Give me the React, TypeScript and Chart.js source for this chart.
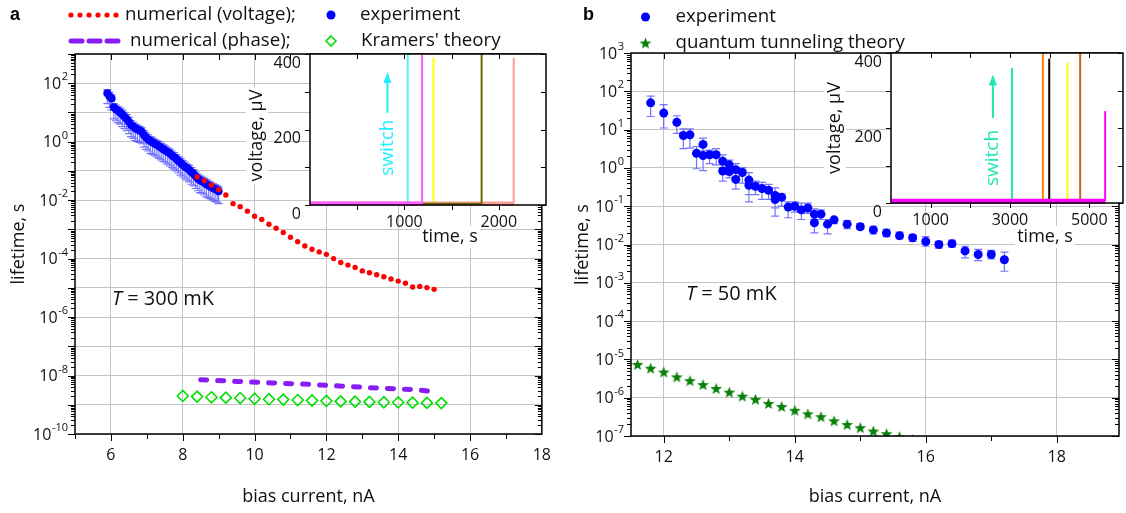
import React, { useEffect, useRef } from 'react';
import { Chart, registerables } from 'chart.js';
Chart.register(...registerables);

const FONT = "'Open Sans', 'DejaVu Sans', sans-serif";
const BOLD = "'Liberation Sans', Arial, sans-serif";

// ---------------- Panel a : T = 300 mK ----------------
const expA_x = [5.90, 5.96, 6.02, 6.08, 6.14, 6.20, 6.26, 6.32, 6.38, 6.44, 6.50, 6.56, 6.62, 6.68, 6.74, 6.80, 6.86, 6.92, 6.98, 7.04, 7.10, 7.16, 7.22, 7.28, 7.34, 7.40, 7.46, 7.52, 7.58, 7.64, 7.70, 7.76, 7.82, 7.88, 7.94, 8.00, 8.06, 8.12, 8.18, 8.24, 8.30, 8.36, 8.42, 8.48, 8.54, 8.60, 8.66, 8.72, 8.78, 8.84, 8.90, 8.96, 9.00];
const expA_y = [45, 36, 30, 15, 13, 11.5, 10, 8.5, 7.2, 6, 4.8, 3.8, 3.3, 2.9, 2.6, 2.4, 2.2, 1.7, 1.4, 1.2, 1.05, 0.95, 0.85, 0.78, 0.7, 0.62, 0.55, 0.5, 0.44, 0.4, 0.34, 0.3, 0.26, 0.22, 0.19, 0.16, 0.14, 0.125, 0.11, 0.092, 0.08, 0.066, 0.055, 0.048, 0.044, 0.04, 0.035, 0.032, 0.029, 0.026, 0.024, 0.022, 0.02];
const expA_lo = [20, 15, 12, 6, 5.2, 4.5, 4, 3.3, 2.8, 2.4, 1.9, 1.5, 1.3, 1.1, 1.0, 0.95, 0.85, 0.65, 0.55, 0.48, 0.4, 0.37, 0.33, 0.3, 0.27, 0.24, 0.21, 0.19, 0.17, 0.15, 0.13, 0.115, 0.1, 0.085, 0.072, 0.062, 0.054, 0.048, 0.042, 0.035, 0.031, 0.025, 0.021, 0.018, 0.017, 0.015, 0.013, 0.012, 0.011, 0.01, 0.009, 0.0085, 0.0076];
const expA_hi = [60, 50, 40, 20, 18, 16, 14, 12, 10, 8.5, 6.8, 5.3, 4.6, 4, 3.6, 3.3, 3, 2.4, 2, 1.7, 1.5, 1.35, 1.2, 1.1, 1.0, 0.88, 0.78, 0.7, 0.62, 0.56, 0.48, 0.42, 0.36, 0.31, 0.27, 0.23, 0.2, 0.17, 0.155, 0.13, 0.11, 0.092, 0.078, 0.068, 0.062, 0.056, 0.05, 0.045, 0.041, 0.037, 0.034, 0.031, 0.028];

const voltA_x = [8.4, 8.6, 8.8, 9.0, 9.2, 9.4, 9.6, 9.8, 10.0, 10.2, 10.4, 10.6, 10.8, 11.0, 11.2, 11.4, 11.6, 11.8, 12.0, 12.2, 12.4, 12.6, 12.8, 13.0, 13.2, 13.4, 13.6, 13.8, 14.0, 14.2, 14.4, 14.6, 14.8, 15.0];
const voltA_y = [0.062, 0.046, 0.033, 0.023, 0.015, 0.0076, 0.006, 0.0042, 0.0028, 0.0022, 0.0015, 0.0011, 0.00079, 0.00054, 0.00038, 0.00027, 0.00021, 0.00017, 0.00014, 0.0001, 7.4e-5, 6.0e-5, 5.0e-5, 3.8e-5, 3.3e-5, 2.8e-5, 2.4e-5, 2.0e-5, 1.7e-5, 1.45e-5, 1.07e-5, 1.12e-5, 1.02e-5, 8.9e-6];

const phaseA_x = [8.5, 9.5, 10.5, 11.5, 12.5, 13.5, 14.5, 15.0];
const phaseA_y = [7.2e-9, 6.3e-9, 5.6e-9, 5.0e-9, 4.3e-9, 3.7e-9, 3.3e-9, 2.8e-9];

const kramersA_x = [8.0, 8.4, 8.8, 9.2, 9.6, 10.0, 10.4, 10.8, 11.2, 11.6, 12.0, 12.4, 12.8, 13.2, 13.6, 14.0, 14.4, 14.8, 15.2];
const kramersA_y = [2.0e-9, 1.9e-9, 1.8e-9, 1.75e-9, 1.7e-9, 1.6e-9, 1.55e-9, 1.5e-9, 1.45e-9, 1.4e-9, 1.35e-9, 1.3e-9, 1.28e-9, 1.25e-9, 1.22e-9, 1.2e-9, 1.18e-9, 1.16e-9, 1.14e-9];

const xTicksA = [6, 8, 10, 12, 14, 16, 18];
const xMinorA = [5, 6, 7, 8, 9, 10, 11, 12, 13, 14, 15, 16, 17];
const yLabelExpA = [2, 0, -2, -4, -6, -8, -10];

// inset a (voltage traces)
const insetA_times = [1035, 1187, 1308, 1818, 2158];
const insetA_peaks = [400, 400, 390, 400, 390];
const insetA_base = 3;
const insetA_xTicks = [500, 1000, 1500, 2000];
const insetA_xLabels = [1000, 2000];
const insetA_yTicks = [0, 100, 200, 300, 400];
const insetA_yLabels = [0, 200, 400];

// ---------------- Panel b : T = 50 mK ----------------
const expB_x = [11.8, 12.0, 12.2, 12.3, 12.4, 12.5, 12.6, 12.6, 12.7, 12.8, 12.9, 12.9, 13.0, 13.0, 13.1, 13.1, 13.2, 13.3, 13.3, 13.4, 13.5, 13.6, 13.7, 13.7, 13.8, 13.9, 14.0, 14.1, 14.2, 14.3, 14.3, 14.4, 14.5, 14.6, 14.8, 15.0, 15.2, 15.4, 15.6, 15.8, 16.0, 16.2, 16.4, 16.6, 16.8, 17.0, 17.2];
const expB_y = [50, 27, 15.5, 7, 7.3, 2.4, 4.1, 2.1, 2.2, 2.2, 1.5, 0.83, 1.2, 0.8, 0.5, 0.9, 0.76, 0.48, 0.35, 0.33, 0.29, 0.26, 0.19, 0.15, 0.17, 0.095, 0.1, 0.08, 0.09, 0.062, 0.037, 0.062, 0.034, 0.044, 0.034, 0.029, 0.024, 0.02, 0.017, 0.015, 0.012, 0.01, 0.0105, 0.0068, 0.0055, 0.0055, 0.004];
const expB_lo = [22, 11, 8, 3.2, 3.3, 0.95, 2.2, 0.85, 1.3, 1.2, 1.0, 0.45, 0.7, 0.55, 0.28, 0.6, 0.4, 0.13, 0.2, 0.2, 0.15, 0.15, 0.055, 0.09, 0.1, 0.05, 0.07, 0.045, 0.065, 0.045, 0.02, 0.045, 0.019, 0.035, 0.026, 0.025, 0.019, 0.016, 0.014, 0.012, 0.009, 0.008, 0.0085, 0.0045, 0.0038, 0.0042, 0.002];
const expB_hi = [75, 45, 23, 10.5, 10.5, 3.6, 6, 2.8, 2.9, 3.2, 2.2, 1.2, 1.6, 1.3, 0.8, 1.3, 1.0, 0.75, 0.5, 0.45, 0.42, 0.37, 0.3, 0.2, 0.21, 0.13, 0.13, 0.12, 0.12, 0.085, 0.045, 0.08, 0.045, 0.05, 0.042, 0.035, 0.03, 0.025, 0.021, 0.018, 0.016, 0.012, 0.013, 0.009, 0.0075, 0.007, 0.0063];

const qtB_x = [11.6, 11.8, 12.0, 12.2, 12.4, 12.6, 12.8, 13.0, 13.2, 13.4, 13.6, 13.8, 14.0, 14.2, 14.4, 14.6, 14.8, 15.0, 15.2, 15.4, 15.6, 15.8];
const qtB_y = [7.4e-6, 5.9e-6, 4.7e-6, 3.5e-6, 2.8e-6, 2.2e-6, 1.75e-6, 1.4e-6, 1.1e-6, 9.1e-7, 7.1e-7, 5.9e-7, 4.7e-7, 3.8e-7, 3.2e-7, 2.5e-7, 2.0e-7, 1.65e-7, 1.35e-7, 1.15e-7, 9.6e-8, 8.1e-8];

const xTicksB = [12, 14, 16, 18];
const xMinorB = [12, 13, 14, 15, 16, 17, 18];
const yLabelExpB = [3, 2, 1, 0, -1, -2, -3, -4, -5, -6, -7];

// inset b (voltage traces)
const insetB_times = [3050, 3830, 3990, 4450, 4770, 5400];
const insetB_peaks = [360, 400, 385, 375, 400, 245];
const insetB_base = 5;
const insetB_xTicks = [1000, 2000, 3000, 4000, 5000];
const insetB_xLabels = [1000, 3000, 5000];
const insetB_yTicks = [0, 100, 200, 300, 400];
const insetB_yLabels = [0, 200, 400];

// ---------------- styles ----------------
const insetA_colors = ['#52f0fa', '#ff5cff', '#ffff00', '#6b6b00', '#ff9c9c'];
const insetA_baseW = [2, 4.5, 2, 2, 4.5];
const insetA_layer = [1, 5, 0, 3, 2];
const insetB_colors = ['#1ee6b4', '#ff8000', '#000000', '#ffff00', '#c86414', '#ff00ff'];
const insetB_baseW = [2, 2, 2, 2, 2, 5];
const insetB_layer = [0, 1, 2, 3, 4, 5];

const LEG = 18.7;

const pts = (xs: number[], ys: number[]) => xs.map((x, i) => ({ x, y: ys[i] }));

function makeStar(size: number, color: string) {
  const c = document.createElement('canvas');
  c.width = size; c.height = size;
  const g = c.getContext('2d')!;
  const cx = size / 2, cy = size / 2 + 0.6, R = size / 2 - 0.3, r = R * 0.42;
  g.beginPath();
  for (let i = 0; i < 10; i++) {
    const ang = -Math.PI / 2 + (i * Math.PI) / 5;
    const rad = i % 2 ? r : R;
    g.lineTo(cx + rad * Math.cos(ang), cy + rad * Math.sin(ang));
  }
  g.closePath();
  g.fillStyle = color;
  g.fill();
  return c;
}

function drawPow(ctx: CanvasRenderingContext2D, exp: number, xRight: number, y: number) {
  const es = String(exp);
  ctx.font = `11px ${FONT}`;
  const ew = ctx.measureText(es).width;
  ctx.font = `16px ${FONT}`;
  const bw = ctx.measureText('10').width;
  ctx.textAlign = 'left';
  ctx.textBaseline = 'middle';
  ctx.fillText('10', xRight - ew - bw - 0.5, y + 1);
  ctx.font = `11px ${FONT}`;
  ctx.fillText(es, xRight - ew, y - 6);
}

const errorBarPlugin = {
  id: 'errBars',
  beforeDatasetsDraw(chart: any) {
    const { ctx } = chart;
    const ys = chart.scales.y;
    chart.data.datasets.forEach((ds: any, i: number) => {
      if (!ds.errLow) return;
      const meta = chart.getDatasetMeta(i);
      ctx.save();
      ctx.strokeStyle = ds.errColor;
      ctx.lineWidth = 1.2;
      ctx.beginPath();
      const cap = ds.errCap;
      meta.data.forEach((el: any, j: number) => {
        const x = el.x;
        const yl = ys.getPixelForValue(ds.errLow[j]);
        const yh = ys.getPixelForValue(ds.errHigh[j]);
        ctx.moveTo(x, yl); ctx.lineTo(x, yh);
        ctx.moveTo(x - cap, yl); ctx.lineTo(x + cap, yl);
        ctx.moveTo(x - cap, yh); ctx.lineTo(x + cap, yh);
      });
      ctx.stroke();
      ctx.restore();
    });
  },
};

const axesPlugin = {
  id: 'axesDeco',
  afterDraw(chart: any, _a: any, o: any) {
    const { ctx, chartArea: a } = chart;
    const xs = chart.scales.x, ys = chart.scales.y;
    ctx.save();
    ctx.strokeStyle = '#000';
    ctx.lineWidth = 1;
    ctx.beginPath();
    for (const v of o.xMinor) {
      const p = Math.round(xs.getPixelForValue(v)) + 0.5;
      const major = o.xMajor.includes(v);
      ctx.moveTo(p, a.bottom); ctx.lineTo(p, a.bottom + (major ? 7 : 5));
      ctx.moveTo(p, a.top); ctx.lineTo(p, a.top + 6);
    }
    for (let e = o.yMinExp; e <= o.yMaxExp; e++) {
      const p = Math.round(ys.getPixelForValue(Math.pow(10, e))) + 0.5;
      ctx.moveTo(a.left - 7, p); ctx.lineTo(a.left, p);
      ctx.moveTo(a.right, p); ctx.lineTo(a.right - 7, p);
      if (e < o.yMaxExp) {
        for (let m = 2; m <= 9; m++) {
          const q = Math.round(ys.getPixelForValue(m * Math.pow(10, e))) + 0.5;
          ctx.moveTo(a.left - 4, q); ctx.lineTo(a.left, q);
          ctx.moveTo(a.right, q); ctx.lineTo(a.right - 4, q);
        }
      }
    }
    ctx.stroke();
    ctx.lineWidth = 1.5;
    ctx.strokeRect(a.left, a.top, a.right - a.left, a.bottom - a.top);
    ctx.fillStyle = '#111';
    for (const e of o.yLabels) drawPow(ctx, e, a.left - 7, ys.getPixelForValue(Math.pow(10, e)));
    ctx.restore();
  },
};

function drawMarker(ctx: CanvasRenderingContext2D, kind: string, ds: any, mx: number, my: number) {
  ctx.save();
  if (kind === 'dots') {
    ctx.fillStyle = ds.pointBackgroundColor;
    for (let i = 0; i < 6; i++) {
      ctx.beginPath(); ctx.arc(mx + i * 9, my, 2.6, 0, Math.PI * 2); ctx.fill();
    }
  } else if (kind === 'dash') {
    ctx.strokeStyle = ds.borderColor; ctx.lineWidth = 5; ctx.lineCap = 'round';
    ctx.beginPath();
    for (const [s, e] of [[0, 11], [18, 29], [36, 47]]) { ctx.moveTo(mx + s, my); ctx.lineTo(mx + e, my); }
    ctx.stroke();
  } else if (kind === 'circle') {
    ctx.fillStyle = ds.pointBackgroundColor;
    ctx.beginPath(); ctx.arc(mx, my, 4.5, 0, Math.PI * 2); ctx.fill();
  } else if (kind === 'diamond') {
    ctx.strokeStyle = ds.pointBorderColor; ctx.lineWidth = 1.6;
    ctx.beginPath(); ctx.moveTo(mx, my - 5); ctx.lineTo(mx + 5, my); ctx.lineTo(mx, my + 5); ctx.lineTo(mx - 5, my); ctx.closePath(); ctx.stroke();
  } else if (kind === 'image') {
    const img = ds.pointStyle;
    ctx.drawImage(img, mx - img.width / 2, my - img.height / 2);
  }
  ctx.restore();
}

const legendPlugin = {
  id: 'legendDeco',
  afterDraw(chart: any, _a: any, o: any) {
    const ctx = chart.ctx;
    ctx.save();
    for (const it of o.items) {
      const ds = chart.data.datasets[it.ds];
      drawMarker(ctx, it.kind, ds, it.mx, it.my);
      ctx.fillStyle = '#111';
      ctx.font = `${LEG}px ${FONT}`;
      ctx.textAlign = 'left';
      ctx.textBaseline = 'middle';
      ctx.fillText(ds.label, it.tx, it.my);
    }
    ctx.font = `bold 18px ${BOLD}`;
    ctx.fillStyle = '#000';
    ctx.textBaseline = 'middle';
    ctx.fillText(o.panel, o.panelX, o.panelY);
    ctx.font = `italic 20px ${FONT}`;
    ctx.fillStyle = '#111';
    ctx.fillText('T', o.tX, o.tY);
    const w = ctx.measureText('T').width;
    ctx.font = `20px ${FONT}`;
    ctx.fillText(o.tText, o.tX + w, o.tY);
    ctx.restore();
  },
};

const insetPlugin = {
  id: 'insetDeco',
  beforeDraw(chart: any) {
    const { ctx, chartArea: a } = chart;
    ctx.save();
    ctx.fillStyle = '#fff';
    ctx.fillRect(a.left, a.top, a.right - a.left, a.bottom - a.top);
    ctx.restore();
  },
  afterDraw(chart: any, _a: any, o: any) {
    const { ctx, chartArea: a } = chart;
    const xs = chart.scales.x, ys = chart.scales.y;
    ctx.save();
    ctx.strokeStyle = '#000';
    ctx.lineWidth = 1;
    ctx.beginPath();
    for (const v of o.xTicks) {
      const p = Math.round(xs.getPixelForValue(v)) + 0.5;
      ctx.moveTo(p, a.bottom); ctx.lineTo(p, a.bottom + 5);
      ctx.moveTo(p, a.top); ctx.lineTo(p, a.top + 5);
    }
    for (const v of o.yTicks) {
      const p = Math.round(ys.getPixelForValue(v)) + 0.5;
      ctx.moveTo(a.left - 5, p); ctx.lineTo(a.left, p);
      ctx.moveTo(a.right, p); ctx.lineTo(a.right - 5, p);
    }
    ctx.stroke();
    ctx.lineWidth = 1.5;
    ctx.strokeRect(a.left, a.top, a.right - a.left, a.bottom - a.top);

    ctx.fillStyle = '#111';
    ctx.font = `16px ${FONT}`;
    ctx.textBaseline = 'middle';
    ctx.textAlign = 'center';
    for (const v of o.xLabels) ctx.fillText(String(v), xs.getPixelForValue(v), a.bottom + 17);
    ctx.textAlign = 'right';
    for (const v of o.yLabels) ctx.fillText(String(v), a.left - 9, ys.getPixelForValue(v) + 9);

    // axis titles with white backing
    ctx.font = `18px ${FONT}`;
    const yt = 'voltage, \u00b5V';
    const ytw = ctx.measureText(yt).width;
    const ytx = a.left - o.yTitleDx, yty = (a.top + a.bottom) / 2 + o.yTitleDy;
    ctx.fillStyle = '#fff';
    ctx.fillRect(ytx - 11, yty - ytw / 2 - 2, 22, ytw + 4);
    ctx.save();
    ctx.translate(ytx, yty);
    ctx.rotate(-Math.PI / 2);
    ctx.fillStyle = '#111';
    ctx.textAlign = 'center';
    ctx.fillText(yt, 0, 0);
    ctx.restore();
    const xt = 'time, s';
    const xtw = ctx.measureText(xt).width;
    ctx.fillStyle = '#fff';
    ctx.fillRect(o.xTitleX - xtw / 2 - 2, o.xTitleY - 11, xtw + 4, 22);
    ctx.fillStyle = '#111';
    ctx.textAlign = 'center';
    ctx.fillText(xt, o.xTitleX, o.xTitleY);

    // "switch" annotation
    const sx = xs.getPixelForValue(o.sw.x);
    ctx.save();
    ctx.translate(sx, ys.getPixelForValue(o.sw.textY));
    ctx.rotate(-Math.PI / 2);
    ctx.font = `19px ${FONT}`;
    ctx.fillStyle = o.sw.color;
    ctx.textAlign = 'center';
    ctx.fillText('switch', 0, 0);
    ctx.restore();
    const y0 = ys.getPixelForValue(o.sw.tail), y1 = ys.getPixelForValue(o.sw.tip);
    ctx.strokeStyle = o.sw.color;
    ctx.fillStyle = o.sw.color;
    ctx.lineWidth = 2;
    ctx.beginPath(); ctx.moveTo(sx, y0); ctx.lineTo(sx, y1 + 8); ctx.stroke();
    ctx.beginPath(); ctx.moveTo(sx, y1); ctx.lineTo(sx - 4, y1 + 11); ctx.lineTo(sx + 4, y1 + 11); ctx.closePath(); ctx.fill();
    ctx.restore();
  },
};

function traceDatasets(times: number[], peaks: number[], base: number, colors: string[], widths: number[], layers: number[]) {
  const out: any[] = [];
  times.forEach((t, i) => {
    out.push({ data: [{ x: 0, y: base }, { x: t, y: base }], borderColor: colors[i], borderWidth: widths[i], showLine: true, pointRadius: 0, order: 40 - layers[i] * 2, clip: 4 });
    out.push({ data: [{ x: t, y: base }, { x: t, y: peaks[i] }], borderColor: colors[i], borderWidth: 2, showLine: true, pointRadius: 0, order: 40 - layers[i] * 2 - 1, clip: 4 });
  });
  return out;
}

const GRID = '#c4c4c4';

function mainScales(xmin: number, xmax: number, xTicks: number[], ymin: number, ymax: number, yMinE: number, yMaxE: number, yWidth: number, xHeight: number, yTitlePad: number) {
  const decs: number[] = [];
  for (let e = yMinE; e <= yMaxE; e++) decs.push(Math.pow(10, e));
  return {
    x: {
      type: 'linear', min: xmin, max: xmax,
      afterBuildTicks: (s: any) => { s.ticks = xTicks.map((v) => ({ value: v })); },
      afterFit: (s: any) => { s.height = xHeight; },
      grid: { color: GRID, lineWidth: 1, drawTicks: false },
      border: { display: false },
      ticks: { font: { size: 16, family: FONT }, color: '#111', padding: 12, maxRotation: 0, autoSkip: false },
      title: { display: true, text: 'bias current, nA', font: { size: 18, family: FONT }, color: '#111', padding: { top: 0, bottom: 5 } },
    },
    y: {
      type: 'logarithmic', min: ymin, max: ymax,
      afterBuildTicks: (s: any) => { s.ticks = decs.map((v) => ({ value: v })); },
      afterFit: (s: any) => { s.width = yWidth; },
      grid: { color: GRID, lineWidth: 1, drawTicks: false },
      border: { display: false },
      ticks: { display: false },
      title: { display: true, text: 'lifetime, s', font: { size: 18, family: FONT }, color: '#111', padding: { top: yTitlePad, bottom: 0 } },
    },
  };
}

export default function App() {
  const aRef = useRef<HTMLCanvasElement>(null);
  const bRef = useRef<HTMLCanvasElement>(null);
  const iaRef = useRef<HTMLCanvasElement>(null);
  const ibRef = useRef<HTMLCanvasElement>(null);

  useEffect(() => {
    const star = makeStar(13, '#0a820a');
    const charts: Chart[] = [];

    charts.push(new Chart(aRef.current!, {
      type: 'scatter',
      data: {
        datasets: [
          { label: 'numerical (voltage);', data: pts(voltA_x, voltA_y), pointRadius: 2.7, pointBackgroundColor: '#ff0000', backgroundColor: '#ff0000', pointBorderWidth: 0, order: 0 } as any,
          { label: 'numerical (phase);', data: pts(phaseA_x, phaseA_y), showLine: true, borderColor: '#8a1cf5', borderWidth: 5, borderDash: [6, 11], borderCapStyle: 'round', pointRadius: 0, order: 2 },
          { label: 'experiment', data: pts(expA_x, expA_y), pointRadius: 4, pointBackgroundColor: '#0000ff', backgroundColor: '#0000ff', pointBorderWidth: 0, order: 1, errLow: expA_lo, errHigh: expA_hi, errColor: 'rgba(70,70,255,0.75)', errCap: 4 },
          { label: "Kramers' theory", data: pts(kramersA_x, kramersA_y), pointStyle: 'rectRot', pointRadius: 5.5, pointBorderColor: '#00e000', pointBackgroundColor: 'rgba(0,0,0,0)', pointBorderWidth: 1.6, order: 3 },
        ],
      },
      options: {
        responsive: false, animation: false, events: [],
        layout: { padding: { left: 0, top: 54, right: 17, bottom: 0 } },
        scales: mainScales(5, 18, xTicksA, 1e-10, 1e3, -10, 3, 75, 79, 8) as any,
        plugins: {
          legend: { display: false }, tooltip: { enabled: false },
          axesDeco: { xMajor: xTicksA, xMinor: xMinorA, yMinExp: -10, yMaxExp: 3, yLabels: yLabelExpA },
          legendDeco: {
            items: [
              { ds: 0, kind: 'dots', mx: 71, my: 15, tx: 125 },
              { ds: 2, kind: 'circle', mx: 331, my: 15, tx: 360 },
              { ds: 1, kind: 'dash', mx: 71, my: 41, tx: 130 },
              { ds: 3, kind: 'diamond', mx: 331, my: 41, tx: 361 },
            ],
            panel: 'a', panelX: 10, panelY: 15, tX: 112, tY: 299, tText: ' = 300 mK',
          },
        } as any,
      },
      plugins: [errorBarPlugin, axesPlugin, legendPlugin],
    } as any));

    charts.push(new Chart(bRef.current!, {
      type: 'scatter',
      data: {
        datasets: [
          { label: 'experiment', data: pts(expB_x, expB_y), pointRadius: 4.5, pointBackgroundColor: '#0000ff', backgroundColor: '#0000ff', pointBorderWidth: 0, order: 0, errLow: expB_lo, errHigh: expB_hi, errColor: 'rgba(70,70,255,0.75)', errCap: 4 } as any,
          { label: 'quantum tunneling theory', data: pts(qtB_x, qtB_y), pointStyle: star, pointRadius: 6, order: 1 },
        ],
      },
      options: {
        responsive: false, animation: false, events: [],
        layout: { padding: { left: 0, top: 53, right: 3, bottom: 0 } },
        scales: mainScales(11.5, 18.95, xTicksB, 1e-7, 1e3, -7, 3, 68, 77, 9) as any,
        plugins: {
          legend: { display: false }, tooltip: { enabled: false },
          axesDeco: { xMajor: xTicksB, xMinor: xMinorB, yMinExp: -7, yMaxExp: 3, yLabels: yLabelExpB },
          legendDeco: {
            items: [
              { ds: 0, kind: 'circle', mx: 82.5, my: 17, tx: 112.5 },
              { ds: 1, kind: 'image', mx: 82.5, my: 43, tx: 112.5 },
            ],
            panel: 'b', panelX: 20, panelY: 15, tX: 123, tY: 294, tText: ' = 50 mK',
          },
        } as any,
      },
      plugins: [errorBarPlugin, axesPlugin, legendPlugin],
    } as any));

    charts.push(new Chart(iaRef.current!, {
      type: 'scatter',
      data: { datasets: traceDatasets(insetA_times, insetA_peaks, insetA_base, insetA_colors, insetA_baseW, insetA_layer) },
      options: {
        responsive: false, animation: false, events: [],
        layout: { padding: { left: 78, top: 10, right: 6, bottom: 44 } },
        scales: {
          x: { type: 'linear', display: false, min: 0, max: 2500 },
          y: { type: 'linear', display: false, min: 0, max: 400 },
        },
        plugins: {
          legend: { display: false }, tooltip: { enabled: false },
          insetDeco: {
            xTicks: insetA_xTicks, xLabels: insetA_xLabels, yTicks: insetA_yTicks, yLabels: insetA_yLabels,
            yTitleDx: 53, yTitleDy: 6, xTitleX: 218, xTitleY: 193,
            sw: { x: 820, textY: 152, tail: 244, tip: 352, color: '#22eeff' },
          },
        } as any,
      },
      plugins: [insetPlugin],
    } as any));

    charts.push(new Chart(ibRef.current!, {
      type: 'scatter',
      data: { datasets: traceDatasets(insetB_times, insetB_peaks, insetB_base, insetB_colors, insetB_baseW, insetB_layer) },
      options: {
        responsive: false, animation: false, events: [],
        layout: { padding: { left: 79, top: 10, right: 3, bottom: 45 } },
        scales: {
          x: { type: 'linear', display: false, min: 0, max: 5850 },
          y: { type: 'linear', display: false, min: 0, max: 400 },
        },
        plugins: {
          legend: { display: false }, tooltip: { enabled: false },
          insetDeco: {
            xTicks: insetB_xTicks, xLabels: insetB_xLabels, yTicks: insetB_yTicks, yLabels: insetB_yLabels,
            yTitleDx: 56, yTitleDy: 0, xTitleX: 233, xTitleY: 194,
            sw: { x: 2570, textY: 120, tail: 227, tip: 343, color: '#1ee6b4' },
          },
        } as any,
      },
      plugins: [insetPlugin],
    } as any));

    return () => charts.forEach((c) => c.destroy());
  }, []);

  return (
    <div style={{ position: 'absolute', left: 0, top: 0, width: 1126, height: 513, background: '#fff', overflow: 'hidden' }}>
      <canvas ref={aRef} width={563} height={513} style={{ position: 'absolute', left: 0, top: 0 }} />
      <canvas ref={bRef} width={563} height={513} style={{ position: 'absolute', left: 563, top: 0 }} />
      <canvas ref={iaRef} width={320} height={205} style={{ position: 'absolute', left: 232, top: 44 }} />
      <canvas ref={ibRef} width={314} height={205} style={{ position: 'absolute', left: 812, top: 43 }} />
    </div>
  );
}
